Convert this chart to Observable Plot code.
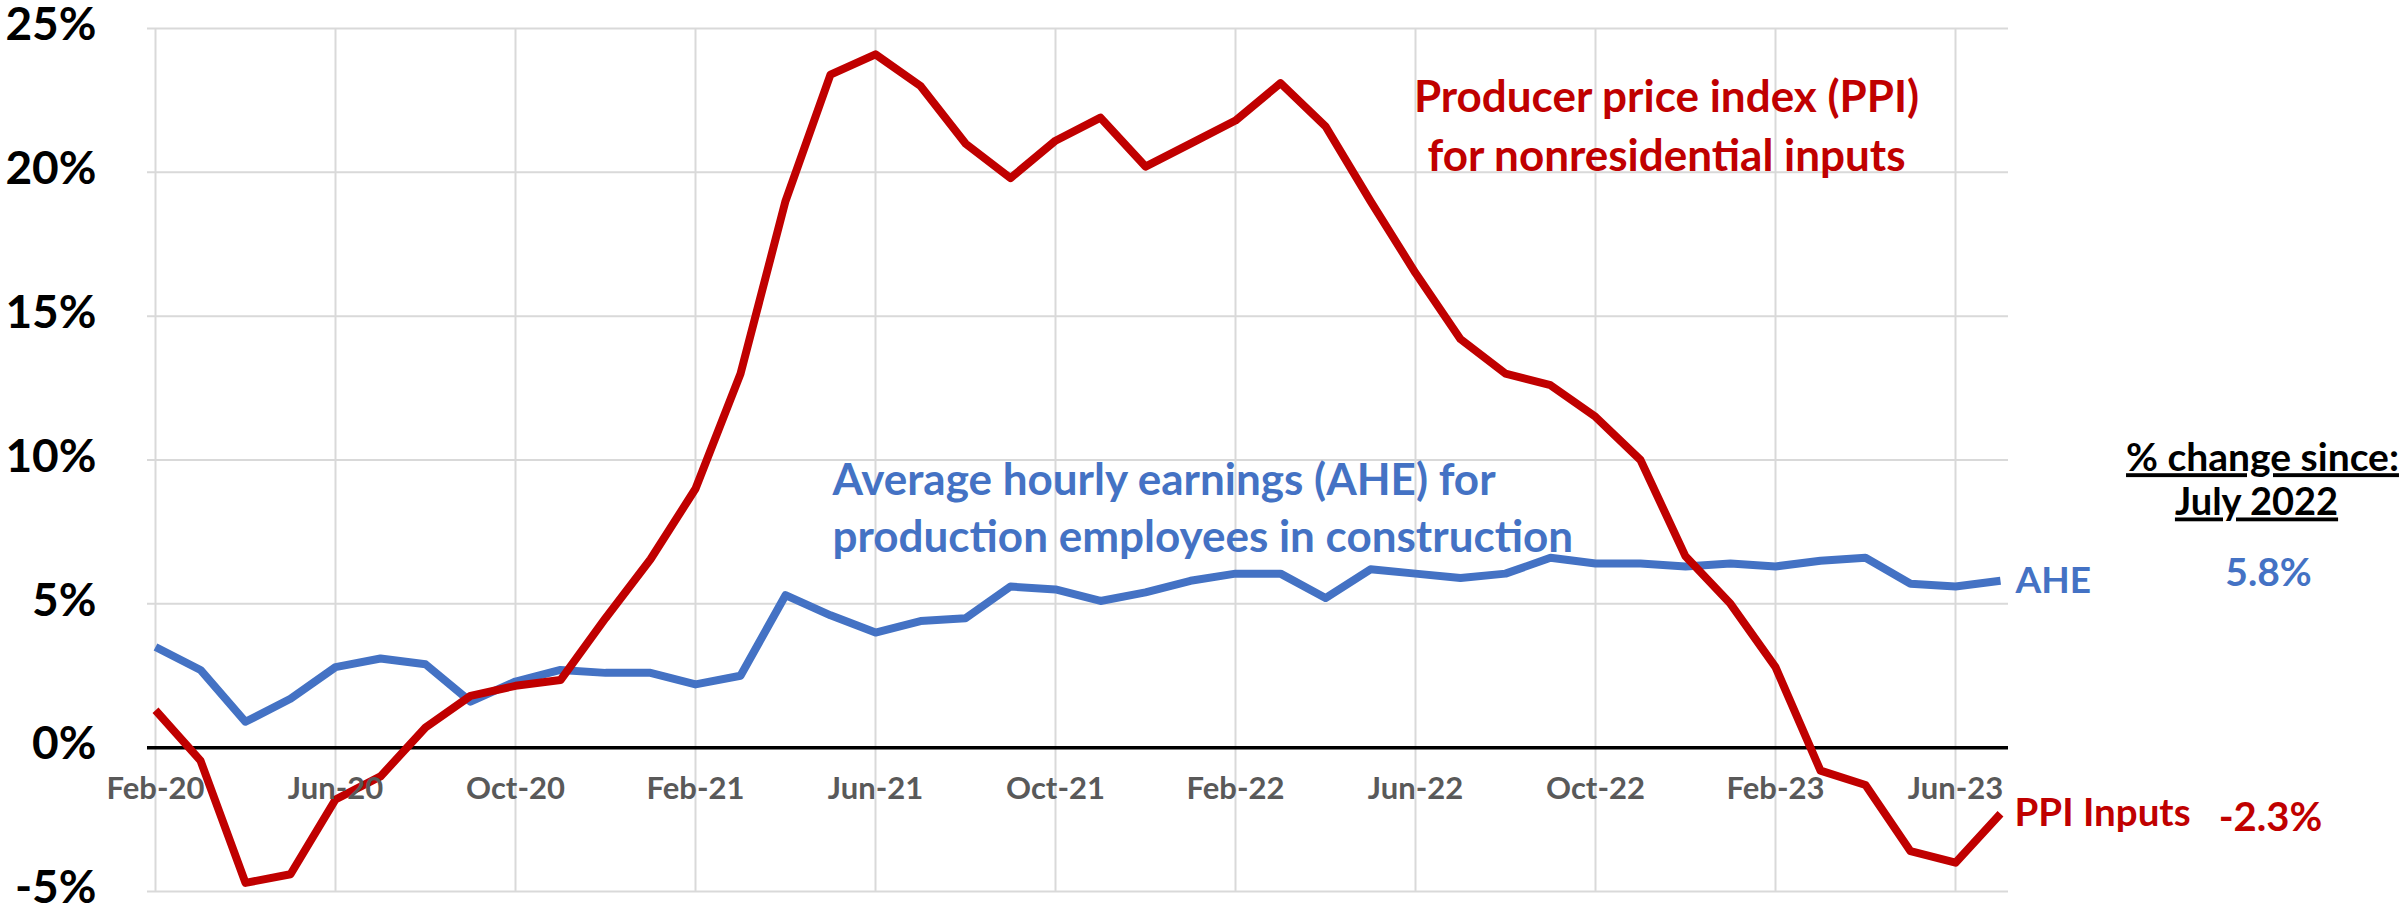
<!DOCTYPE html>
<html><head><meta charset="utf-8">
<script src="https://cdn.jsdelivr.net/npm/d3@7"></script>
<script src="https://cdn.jsdelivr.net/npm/@observablehq/plot@0.6"></script>
<style>
html,body{margin:0;padding:0;background:#fff;}
#chart svg{display:block;}
</style>
</head><body><div id="chart"></div>
<script>
const months = ["Feb-20","Mar-20","Apr-20","May-20","Jun-20","Jul-20","Aug-20","Sep-20","Oct-20","Nov-20","Dec-20","Jan-21",
  "Feb-21","Mar-21","Apr-21","May-21","Jun-21","Jul-21","Aug-21","Sep-21","Oct-21","Nov-21","Dec-21","Jan-22",
  "Feb-22","Mar-22","Apr-22","May-22","Jun-22","Jul-22","Aug-22","Sep-22","Oct-22","Nov-22","Dec-22","Jan-23",
  "Feb-23","Mar-23","Apr-23","May-23","Jun-23","Jul-23"];
const ahe = [3.5,2.7,0.9,1.7,2.8,3.1,2.9,1.6,2.3,2.7,2.6,2.6,2.2,2.5,5.3,4.6,4.0,4.4,4.5,5.6,5.5,5.1,5.4,5.8,6.05,6.05,5.2,6.2,6.05,5.9,6.05,6.6,6.4,6.4,6.3,6.4,6.3,6.5,6.6,5.7,5.6,5.8];
const ppi = [1.3,-0.45,-4.7,-4.4,-1.8,-1.0,0.7,1.8,2.15,2.35,4.5,6.55,9.0,13.0,19.0,23.4,24.1,23.0,21.0,19.8,21.1,21.9,20.2,21.0,21.8,23.1,21.6,19.0,16.5,14.2,13.0,12.6,11.5,10.0,6.65,5.0,2.8,-0.8,-1.3,-3.6,-4.0,-2.3];
const xTickLabels = ["Feb-20","Jun-20","Oct-20","Feb-21","Jun-21","Oct-21","Feb-22","Jun-22","Oct-22","Feb-23","Jun-23"];
const yTicks = [-5,0,5,10,15,20,25];
const seriesNames = ["AHE","PPI Inputs"];
const ppiTitle = "Producer price index (PPI)\nfor nonresidential inputs";
const aheTitle = "Average hourly earnings (AHE) for\nproduction employees in construction";
const changeTitle = ["% change since:","July 2022"];

const BLUE = "#4472C4", RED = "#C00000", GRID = "#d9d9d9", TICK = "#595959";
const aheData = months.map((m,i)=>({month:m, value:ahe[i]}));
const ppiData = months.map((m,i)=>({month:m, value:ppi[i]}));
const last = months.length-1;
const aheEnd = [{month:months[last], value:ahe[last], name:seriesNames[0]}];
const ppiEnd = [{month:months[last], value:ppi[last], name:seriesNames[1]}];
const pct = d => d.value.toFixed(1) + "%";

const chart = Plot.plot({
  width: 2407, height: 912,
  marginLeft: 147, marginRight: 399, marginTop: 28, marginBottom: 21,
  style: {fontFamily: "Lato, 'Open Sans', sans-serif", background: "#fff", overflow: "visible"},
  x: {type: "point", domain: months, padding: 0, axis: null},
  y: {domain: [-5, 25], axis: null},
  marks: [
    Plot.ruleY(yTicks.filter(d=>d!==0), {stroke: GRID, strokeWidth: 2}),
    Plot.ruleX(xTickLabels, {x: d=>d, stroke: GRID, strokeWidth: 2}),
    Plot.ruleY([0], {stroke: "#000", strokeWidth: 3.5}),
    Plot.line(aheData, {x: "month", y: "value", stroke: BLUE, strokeWidth: 8, strokeLinecap: "butt"}),
    Plot.line(ppiData, {x: "month", y: "value", stroke: RED, strokeWidth: 8, strokeLinecap: "butt"}),
    Plot.text(yTicks, {frameAnchor: "left", y: d=>d, text: d=>d+"%", textAnchor: "end", dx: -51, dy: -3,
      fontSize: 46, fontWeight: "bold", fill: "#000"}),
    Plot.text(xTickLabels, {x: d=>d, y: 0, text: d=>d, dy: 41, fontSize: 31, fontWeight: "bold", fill: TICK}),
    Plot.text([ppiTitle], {frameAnchor: "top-left", text: d=>d, dx: 1519, dy: 42, lineAnchor: "top",
      lineHeight: 1.33, textAnchor: "middle", fontSize: 44, fontWeight: "bold", fill: RED}),
    Plot.text([aheTitle], {frameAnchor: "top-left", text: d=>d, dx: 685, dy: 426, lineAnchor: "top",
      lineHeight: 1.29, textAnchor: "start", fontSize: 44, fontWeight: "bold", fill: BLUE}),
    Plot.text(aheEnd, {x: "month", y: "value", text: "name", dx: 15, textAnchor: "start",
      fontSize: 37, fontWeight: "bold", fill: BLUE}),
    Plot.text(ppiEnd, {x: "month", y: "value", text: "name", dx: 14, textAnchor: "start",
      fontSize: 38.5, fontWeight: "bold", fill: RED}),
    Plot.text(aheEnd, {x: "month", y: "value", text: pct, dx: 268, dy: -7, textAnchor: "middle",
      fontSize: 39, fontWeight: "bold", fill: BLUE}),
    Plot.text(ppiEnd, {x: "month", y: "value", text: pct, dx: 270, dy: 4, textAnchor: "middle",
      fontSize: 40, fontWeight: "bold", fill: RED}),
    Plot.text([changeTitle[0]], {frameAnchor: "top-right", text: d=>d, dx: 254, dy: 415,
      textAnchor: "middle", fontSize: 39, fontWeight: "bold", fill: "#000"}),
    Plot.text([changeTitle[1]], {frameAnchor: "top-right", text: d=>d, dx: 248, dy: 460,
      textAnchor: "middle", fontSize: 38, fontWeight: "bold", fill: "#000"})
  ]
});
chart.querySelectorAll("text").forEach(t => {
  if (changeTitle.includes(t.textContent)) t.style.textDecoration = "underline";
});
document.getElementById("chart").appendChild(chart);
</script>
</body></html>
